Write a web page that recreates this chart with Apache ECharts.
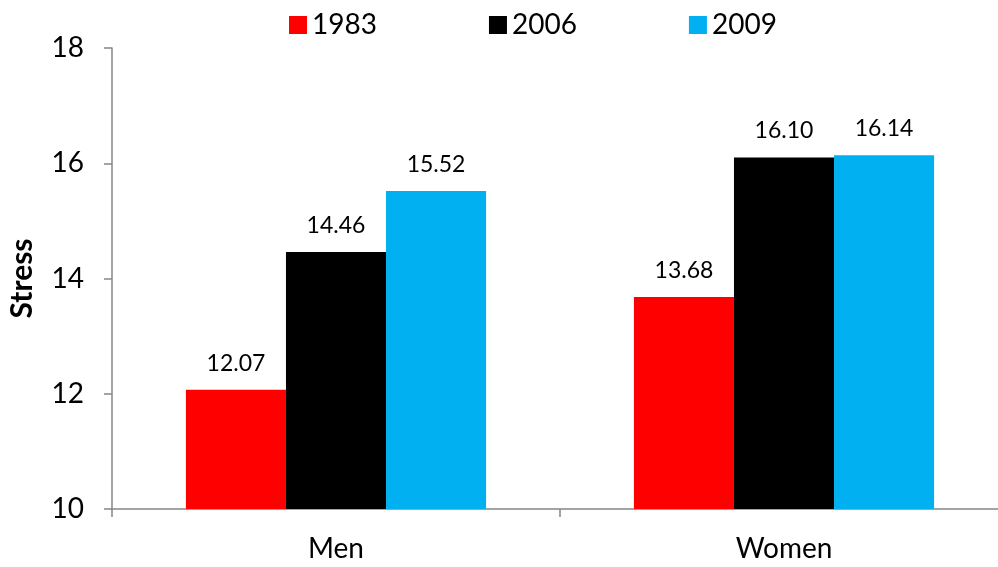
<!DOCTYPE html>
<html>
<head>
<meta charset="utf-8">
<script src="https://cdn.jsdelivr.net/npm/echarts@6/dist/echarts.min.js"></script>
<style>
* { margin: 0; padding: 0; }
html, body { background: #fff; }
#chart { width: 998px; height: 567px; }
</style>
</head>
<body>
<div id="chart"></div>
<script>
const groups = ['Men', 'Women'];
const years = ['1983', '2006', '2009'];
const s1983 = [12.07, 13.68];
const s2006 = [14.46, 16.10];
const s2009 = [15.52, 16.14];
const colors = ['#ff0000', '#000000', '#00b0f0'];

const font = 'Lato, "Open Sans", sans-serif';

function barSeries(name, data, color) {
  return {
    name: name,
    type: 'bar',
    data: data,
    barGap: '0%',
    barCategoryGap: '33%',
    itemStyle: { color: color },
    label: {
      show: true,
      position: 'top',
      distance: 15,
      color: '#000',
      fontFamily: font,
      fontSize: 23,
      formatter: p => p.value.toFixed(2)
    }
  };
}

const chart = echarts.init(document.getElementById('chart'));
chart.setOption({
  animation: false,
  textStyle: { fontFamily: font },
  legend: {
    top: 6,
    left: 284,
    itemWidth: 18,
    itemHeight: 18,
    itemGap: 112,
    icon: 'rect',
    data: years,
    textStyle: { fontSize: 28, color: '#000', fontFamily: font }
  },
  grid: { left: 112, top: 48, right: -10, bottom: 58, outerBoundsMode: 'none', containLabel: false },
  xAxis: {
    type: 'category',
    data: groups,
    axisLine: { lineStyle: { color: '#868686', width: 1.5 } },
    axisTick: { show: true, length: 8, lineStyle: { color: '#868686', width: 1.5 } },
    axisLabel: { fontSize: 28, color: '#000', margin: 26, fontFamily: font }
  },
  yAxis: {
    type: 'value',
    min: 10,
    max: 18,
    interval: 2,
    name: 'Stress',
    nameLocation: 'middle',
    nameGap: 75,
    nameTextStyle: { fontSize: 30, fontWeight: 'bold', color: '#000', fontFamily: font },
    splitLine: { show: false },
    axisLine: { show: true, lineStyle: { color: '#868686', width: 1.5 } },
    axisTick: { show: true, length: 8, lineStyle: { color: '#868686', width: 1.5 } },
    axisLabel: { fontSize: 28, color: '#000', margin: 28, fontFamily: font }
  },
  series: [
    barSeries(years[0], s1983, colors[0]),
    barSeries(years[1], s2006, colors[1]),
    barSeries(years[2], s2009, colors[2])
  ]
});
</script>
</body>
</html>
